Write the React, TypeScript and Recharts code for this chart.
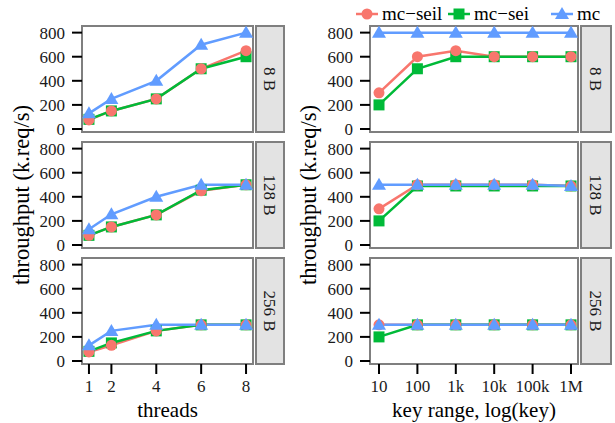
import React from 'react'
import { LineChart, Line, XAxis, YAxis } from 'recharts'

const RED = '#F8766D'
const GREEN = '#00BA38'
const BLUE = '#619CFF'
const FONT = 'Liberation Serif'

const threads = [1, 2, 4, 6, 8]
const keyRanges = ['10', '100', '1k', '10k', '100k', '1M']
const sizes = ['8 B', '128 B', '256 B']
const yTicks = [0, 200, 400, 600, 800]

// one row per value size
const threadsSeil = [
  [75, 150, 250, 500, 650],
  [80, 150, 250, 450, 500],
  [75, 130, 250, 300, 300],
]
const threadsSei = [
  [80, 150, 250, 500, 600],
  [80, 150, 250, 455, 500],
  [80, 150, 250, 300, 300],
]
const threadsMc = [
  [130, 250, 400, 700, 800],
  [130, 255, 400, 500, 500],
  [130, 250, 300, 300, 300],
]
const keysSeil = [
  [300, 600, 650, 600, 600, 600],
  [300, 500, 500, 500, 500, 490],
  [300, 300, 300, 300, 300, 300],
]
const keysSei = [
  [200, 500, 600, 600, 600, 600],
  [200, 490, 490, 490, 490, 490],
  [200, 300, 300, 300, 300, 300],
]
const keysMc = [
  [800, 800, 800, 800, 800, 800],
  [500, 500, 500, 500, 500, 490],
  [300, 300, 300, 300, 300, 300],
]

const rowTops = [26, 142, 258]
const PANEL_H = 106
const PAD = 10
const LEFT = { plot: 82, right: 253, strip: 256, stripW: 28 }
const RIGHT = { plot: 370, right: 578, strip: 581, stripW: 30 }

function buildRows(xs: any[], xKey: string, seil: number[], sei: number[], mc: number[]) {
  return xs.map((x, i) => ({ [xKey]: x, seil: seil[i], sei: sei[i], mc: mc[i] }))
}

const circleDot = (p: any) => (
  <circle key={`c-${p.index}`} cx={p.cx} cy={p.cy} r={5.5} fill={RED} />
)
const squareDot = (p: any) => (
  <rect key={`s-${p.index}`} x={p.cx - 5.5} y={p.cy - 5.5} width={11} height={11} fill={GREEN} />
)
const triangleDot = (p: any) => (
  <polygon
    key={`t-${p.index}`}
    points={`${p.cx},${p.cy - 7} ${p.cx + 7},${p.cy + 5} ${p.cx - 7},${p.cy + 5}`}
    fill={BLUE}
  />
)

const tickLine = { stroke: '#000', strokeWidth: 2 }
const tickText = { fill: '#1a1a1a', fontSize: 17, fontFamily: FONT }

function Panel({ left, top, width, data, xKey, bottom, numeric }: any) {
  const h = PANEL_H + PAD + (bottom ? 40 : PAD)
  const margin = { top: PAD, right: 20, bottom: bottom ? 0 : PAD, left: 0 }
  return (
    <div style={{ position: 'absolute', left, top: top - PAD }}>
      <LineChart width={width + 20} height={h} data={data} margin={margin}>
        {numeric ? (
          <XAxis
            dataKey={xKey}
            type="number"
            domain={[0.69, 8.31]}
            ticks={threads}
            allowDataOverflow
            interval={0}
            hide={!bottom}
            height={40}
            tickSize={10}
            tickMargin={6}
            axisLine={false}
            tickLine={tickLine}
            tick={tickText}
          />
        ) : (
          <XAxis
            dataKey={xKey}
            type="category"
            padding={{ left: 9, right: 7 }}
            interval={0}
            hide={!bottom}
            height={40}
            tickSize={10}
            tickMargin={6}
            axisLine={false}
            tickLine={tickLine}
            tick={tickText}
          />
        )}
        <YAxis
          type="number"
          domain={[-25, 855]}
          ticks={yTicks}
          allowDataOverflow
          interval={0}
          width={82}
          tickSize={10}
          tickMargin={7}
          axisLine={false}
          tickLine={tickLine}
          tick={tickText}
        />
        <Line dataKey="seil" stroke={RED} strokeWidth={2.5} dot={false} activeDot={false} isAnimationActive={false} />
        <Line dataKey="sei" stroke={GREEN} strokeWidth={2.5} dot={false} activeDot={false} isAnimationActive={false} />
        <Line dataKey="mc" stroke={BLUE} strokeWidth={2.5} dot={false} activeDot={false} isAnimationActive={false} />
        <Line dataKey="sei" stroke="none" dot={squareDot} activeDot={false} isAnimationActive={false} />
        <Line dataKey="seil" stroke="none" dot={circleDot} activeDot={false} isAnimationActive={false} />
        <Line dataKey="mc" stroke="none" dot={triangleDot} activeDot={false} isAnimationActive={false} />
      </LineChart>
    </div>
  )
}

function Background() {
  const col = (c: any, stripX: number) =>
    rowTops.map((top, i) => (
      <g key={`${c.plot}-${i}`}>
        <rect x={c.plot} y={top} width={c.right - c.plot} height={PANEL_H} fill="#fff" stroke="#7f7f7f" strokeWidth={2} />
        <rect x={c.strip} y={top} width={c.stripW} height={PANEL_H} fill="#e3e3e3" stroke="#7f7f7f" strokeWidth={2} />
        <text
          x={stripX}
          y={top + PANEL_H / 2}
          transform={`rotate(90 ${stripX} ${top + PANEL_H / 2})`}
          textAnchor="middle"
          fontSize={17}
          fill="#1a1a1a"
        >
          {sizes[i]}
        </text>
      </g>
    ))
  return (
    <svg width={615} height={423} style={{ position: 'absolute', left: 0, top: 0, fontFamily: FONT }}>
      {col(LEFT, 264)}
      {col(RIGHT, 590)}
      <text x={29} y={195} transform="rotate(-90 29 195)" textAnchor="middle" fontSize={22.5} fill="#000">
        throughput (k.req/s)
      </text>
      <text x={316} y={195} transform="rotate(-90 316 195)" textAnchor="middle" fontSize={22.5} fill="#000">
        throughput (k.req/s)
      </text>
      <text x={167.5} y={417} textAnchor="middle" fontSize={21} fill="#000">threads</text>
      <text x={474} y={417} textAnchor="middle" fontSize={21} fill="#000">key range, log(key)</text>
      {/* legend */}
      <line x1={356} x2={378} y1={14} y2={14} stroke={RED} strokeWidth={2.5} />
      <circle cx={367} cy={14} r={5.5} fill={RED} />
      <text x={382} y={20} fontSize={19} fill="#000">mc−seil</text>
      <line x1={448} x2={470} y1={14} y2={14} stroke={GREEN} strokeWidth={2.5} />
      <rect x={453.5} y={8.5} width={11} height={11} fill={GREEN} />
      <text x={474} y={20} fontSize={19} fill="#000">mc−sei</text>
      <line x1={551} x2={573} y1={14} y2={14} stroke={BLUE} strokeWidth={2.5} />
      <polygon points="562,7 569,19 555,19" fill={BLUE} />
      <text x={577} y={20} fontSize={19} fill="#000">mc</text>
    </svg>
  )
}

export default function App() {
  return (
    <div
      style={{
        position: 'absolute',
        left: 0,
        top: 0,
        width: 615,
        height: 423,
        background: '#fff',
        fontFamily: FONT,
      }}
    >
      <Background />
      {rowTops.map((top, i) => (
        <Panel
          key={`l-${i}`}
          left={0}
          top={top}
          width={LEFT.right}
          data={buildRows(threads, 'threads', threadsSeil[i], threadsSei[i], threadsMc[i])}
          xKey="threads"
          bottom={i === 2}
          numeric
        />
      ))}
      {rowTops.map((top, i) => (
        <Panel
          key={`r-${i}`}
          left={RIGHT.plot - 82}
          top={top}
          width={RIGHT.right - RIGHT.plot + 82}
          data={buildRows(keyRanges, 'key', keysSeil[i], keysSei[i], keysMc[i])}
          xKey="key"
          bottom={i === 2}
        />
      ))}
    </div>
  )
}
